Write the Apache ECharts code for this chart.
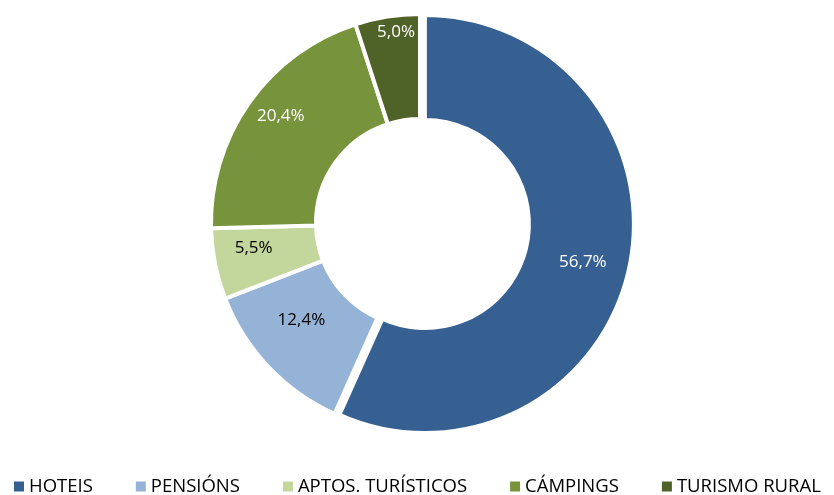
<!DOCTYPE html>
<html>
<head>
<meta charset="utf-8">
<script src="https://cdn.jsdelivr.net/npm/echarts@6/dist/echarts.min.js"></script>
<style>
  html, body { margin: 0; padding: 0; background: #fff; }
  #chart { width: 834px; height: 495px; }
</style>
</head>
<body>
<div id="chart"></div>
<script>
// categorias e valores (%)
var categories = ['HOTEIS', 'PENSIÓNS', 'APTOS. TURÍSTICOS', 'CÁMPINGS', 'TURISMO RURAL'];
var values = [56.7, 12.4, 5.5, 20.4, 5.0];
var colors = ['#376092', '#95B3D7', '#C3D69B', '#77933C', '#4F6228'];
var labelColors = ['#fff', '#000', '#000', '#fff', '#fff'];

var chart = echarts.init(document.getElementById('chart'));

var pieData = categories.map(function (name, i) {
  return {
    name: name,
    value: values[i],
    selected: i === 0,
    itemStyle: { color: colors[i] },
    label: { color: labelColors[i] }
  };
});

// axuste das etiquetas (como en Excel)
var labelShift = [[2, 5], [-3, -13], [-10, -6], [-9, -15], [1, -33]];

chart.setOption({
  animation: false,
  legend: {
    top: 477,
    left: 12,
    padding: 0,
    itemWidth: 12,
    itemHeight: 12,
    itemGap: 41,
    icon: 'rect',
    textStyle: {
      fontFamily: 'Open Sans',
      fontSize: 18.5,
      color: '#000',
      padding: [0, 0, 0, -1]
    },
    data: categories
  },
  series: [{
    type: 'pie',
    center: [420, 223],
    radius: [104, 209],
    startAngle: 90,
    clockwise: true,
    selectedMode: 'multiple',
    selectedOffset: 5,
    itemStyle: {
      borderColor: '#fff',
      borderWidth: 4
    },
    label: {
      show: true,
      position: 'inside',
      fontFamily: 'Open Sans',
      fontSize: 17,
      formatter: function (p) {
        return p.value.toFixed(1).replace('.', ',') + '%';
      }
    },
    labelLayout: function (p) {
      var s = labelShift[p.dataIndex];
      return { dx: s[0], dy: s[1] };
    },
    labelLine: { show: false },
    emphasis: { disabled: true },
    data: pieData
  }]
});
</script>
</body>
</html>
